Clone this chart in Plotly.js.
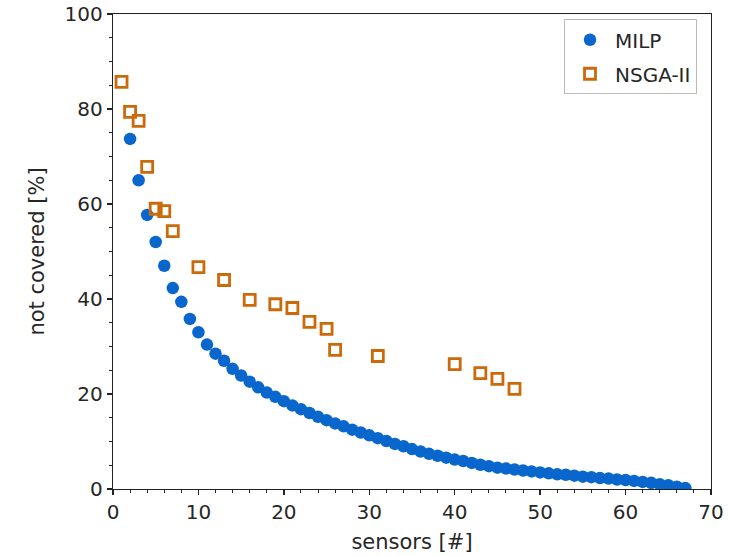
<!DOCTYPE html>
<html>
<head>
<meta charset="utf-8">
<script src="https://cdn.plot.ly/plotly-3.0.1.min.js"></script>
<style>html,body{margin:0;padding:0;background:#fff;}#chart{width:733px;height:556px;}</style>
</head>
<body>
<div id="chart"></div>
<script>
// MILP: sensors vs. not covered [%]
const milpSensors = [2,3,4,5,6,7,8,9,10,11,12,13,14,15,16,17,18,19,20,21,22,23,24,25,26,27,28,29,30,31,32,33,34,35,36,37,38,39,40,41,42,43,44,45,46,47,48,49,50,51,52,53,54,55,56,57,58,59,60,61,62,63,64,65,66,67];
const milpNotCovered = [73.7,65.0,57.7,52.0,47.0,42.3,39.4,35.8,33.0,30.4,28.5,27.0,25.3,23.9,22.6,21.4,20.3,19.4,18.5,17.6,16.8,16.0,15.2,14.5,13.8,13.2,12.5,11.9,11.3,10.7,10.1,9.5,9.0,8.4,7.9,7.4,7.0,6.6,6.2,5.9,5.5,5.1,4.8,4.5,4.3,4.1,3.9,3.7,3.5,3.3,3.1,3.0,2.8,2.6,2.5,2.3,2.2,2.0,1.9,1.7,1.5,1.3,1.0,0.8,0.5,0.2];
// NSGA-II
const nsgaSensors = [1,2,3,4,5,6,7,10,13,16,19,21,23,25,26,31,40,43,45,47];
const nsgaNotCovered = [85.7,79.4,77.5,67.8,59.0,58.5,54.3,46.7,44.0,39.8,38.9,38.1,35.2,33.7,29.3,28.0,26.3,24.4,23.2,21.1];
// labels
const seriesNames = ["MILP", "NSGA-II"];
const xTitle = "sensors [#]";
const yTitle = "not covered [%]";

const font = "DejaVu Sans, sans-serif";
const traces = [
  {x: milpSensors, y: milpNotCovered, name: seriesNames[0], type: "scatter", mode: "markers",
   legendgroup: "a",
   marker: {symbol: "circle", size: 12.5, color: "#0866cc", line: {width: 0}}},
  {x: nsgaSensors, y: nsgaNotCovered, name: seriesNames[1], type: "scatter", mode: "markers",
   legendgroup: "b",
   marker: {symbol: "square-open", size: 11, color: "#cc6a0a", line: {width: 2.8, color: "#cc6a0a"}}}
];
const axisCommon = {
  showgrid: false, zeroline: false, showline: true, mirror: true,
  linecolor: "#222", linewidth: 1.3,
  ticks: "outside", ticklen: 5, tickwidth: 1.3, tickcolor: "#222",
  tickfont: {family: font, size: 20, color: "#262626"}
};
const layout = {
  width: 733, height: 556,
  margin: {l: 113, r: 22, t: 14, b: 67},
  paper_bgcolor: "#fff", plot_bgcolor: "#fff",
  font: {family: font, color: "#262626"},
  xaxis: Object.assign({}, axisCommon, {
    range: [0, 70], dtick: 10, tick0: 0,
    minor: {dtick: 2, ticks: "outside", ticklen: 3, tickwidth: 1, tickcolor: "#222"},
    title: {text: xTitle, font: {family: font, size: 21, color: "#262626"}, standoff: 11}
  }),
  yaxis: Object.assign({}, axisCommon, {
    range: [0, 100], dtick: 20, tick0: 0,
    minor: {dtick: 5, ticks: "outside", ticklen: 3, tickwidth: 1, tickcolor: "#222"},
    title: {text: yTitle, font: {family: font, size: 21, color: "#262626"}, standoff: 14}
  }),
  showlegend: true,
  legend: {
    x: 0.9766, xanchor: "right", y: 0.989, yanchor: "top",
    bgcolor: "#fff", bordercolor: "#bbb", borderwidth: 1,
    font: {family: font, size: 20, color: "#262626"},
    traceorder: "grouped", tracegroupgap: 5, itemwidth: 40
  }
};
Plotly.newPlot("chart", traces, layout, {displayModeBar: false, staticPlot: true});
</script>
</body>
</html>
